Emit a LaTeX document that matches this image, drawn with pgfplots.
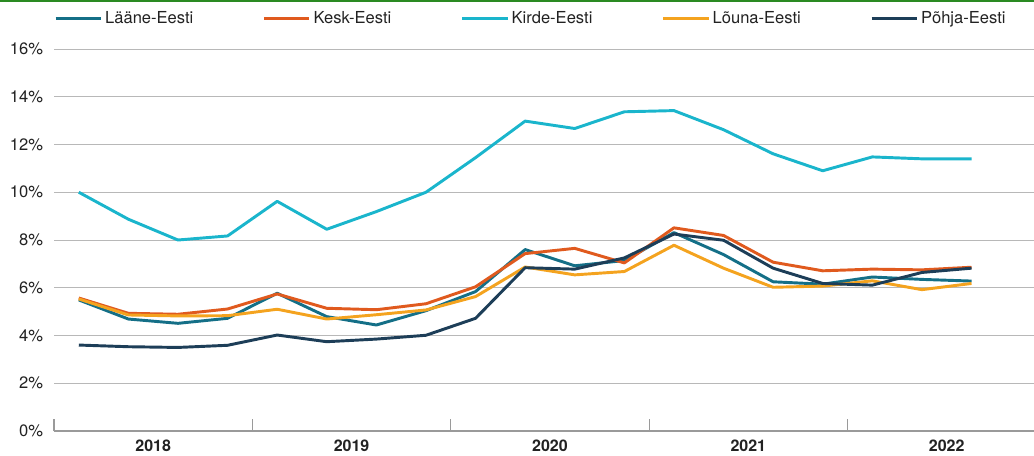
\documentclass[border=0pt]{standalone}
\usepackage{pgfplots}
\pgfplotsset{compat=1.18}
\usepackage{fontspec}
\setmainfont{TeX Gyre Heros}
\definecolor{laane}{HTML}{146F87}
\definecolor{kesk}{HTML}{E05A1E}
\definecolor{kirde}{HTML}{1AB5CC}
\definecolor{louna}{HTML}{F4A31F}
\definecolor{pohja}{HTML}{1D3E58}
\definecolor{gridc}{HTML}{B8B8B8}
\definecolor{axc}{HTML}{9A9A9A}
\definecolor{topgreen}{HTML}{2A8A22}
\definecolor{txt}{HTML}{222222}
\begin{document}
\begin{tikzpicture}
\useasboundingbox (0,0) rectangle (775.5pt,341.25pt);
\fill[topgreen] (0,339.9pt) rectangle (775.5pt,341.25pt);
\begin{axis}[
  at={(40.5pt,18pt)}, anchor=south west,
  scale only axis, width=735pt, height=286.5pt,
  xmin=-0.5, xmax=19.26, ymin=0, ymax=16,
  axis x line=bottom, axis y line=left,
  axis line style={-, draw=axc, line width=0.9pt},
  y axis line style={draw=none},
  ytick={0,2,...,16},
  yticklabel={\pgfmathprintnumber{\tick}\%},
  yticklabel style={anchor=east, inner sep=0pt, xshift=-8pt, text=txt},
  ytick style={draw=none},
  ymajorgrids, grid style={gridc, line width=0.75pt},
  xtick={-0.5,3.5,7.5,11.5,15.5},
  xticklabels={,,,,},
  tick align=inside, major tick length=9pt,
  xtick style={draw=axc, line width=0.9pt},
  extra x ticks={1.5,5.5,9.5,13.5,17.5},
  extra x tick labels={2018,2019,2020,2021,2022},
  extra x tick style={major tick length=0pt, xmajorgrids=false,
     tick label style={font=\fontsize{12pt}{14pt}\selectfont\bfseries, text=txt, anchor=north, inner sep=0pt, yshift=-6.5pt}},
  /pgf/number format/assume math mode=true,
  tick label style={font=\fontsize{12.4pt}{14pt}\selectfont},
  legend style={at={(axis description cs:0,1)}, anchor=west, yshift=23pt,
    draw=none, fill=none, inner xsep=0pt, inner ysep=0pt,
    font=\fontsize{12.4pt}{14pt}\selectfont, text=txt,
    /tikz/every even column/.append style={column sep=50pt}},
  legend columns=5,
  legend image code/.code={\draw[#1] (0pt,0pt) -- (34pt,0pt);},
  every axis plot/.append style={line width=2.2pt, line join=round},
]
\addplot[laane] table[x=x,y=y] {
x y
0 5.49
1 4.69
2 4.51
3 4.72
4 5.77
5 4.79
6 4.44
7 5.04
8 5.84
9 7.60
10 6.92
11 7.14
12 8.31
13 7.39
14 6.25
15 6.15
16 6.45
17 6.35
18 6.28
};
\addlegendentry{Lääne-Eesti}
\addplot[kesk] table[x=x,y=y] {
x y
0 5.57
1 4.93
2 4.89
3 5.11
4 5.74
5 5.14
6 5.08
7 5.33
8 6.04
9 7.43
10 7.65
11 7.04
12 8.51
13 8.19
14 7.07
15 6.71
16 6.78
17 6.75
18 6.86
};
\addlegendentry{Kesk-Eesti}
\addplot[kirde] table[x=x,y=y] {
x y
0 10.00
1 8.87
2 8.00
3 8.17
4 9.62
5 8.45
6 9.19
7 10.00
8 11.45
9 12.98
10 12.67
11 13.37
12 13.42
13 12.62
14 11.61
15 10.90
16 11.48
17 11.40
18 11.40
};
\addlegendentry{Kirde-Eesti}
\addplot[louna] table[x=x,y=y] {
x y
0 5.53
1 4.86
2 4.82
3 4.83
4 5.10
5 4.69
6 4.87
7 5.07
8 5.63
9 6.87
10 6.54
11 6.68
12 7.78
13 6.82
14 6.02
15 6.07
16 6.29
17 5.92
18 6.18
};
\addlegendentry{Lõuna-Eesti}
\addplot[pohja] table[x=x,y=y] {
x y
0 3.60
1 3.53
2 3.50
3 3.59
4 4.02
5 3.74
6 3.85
7 4.01
8 4.72
9 6.84
10 6.78
11 7.25
12 8.25
13 7.99
14 6.82
15 6.18
16 6.11
17 6.64
18 6.82
};
\addlegendentry{Põhja-Eesti}
\end{axis}
\end{tikzpicture}
\end{document}
